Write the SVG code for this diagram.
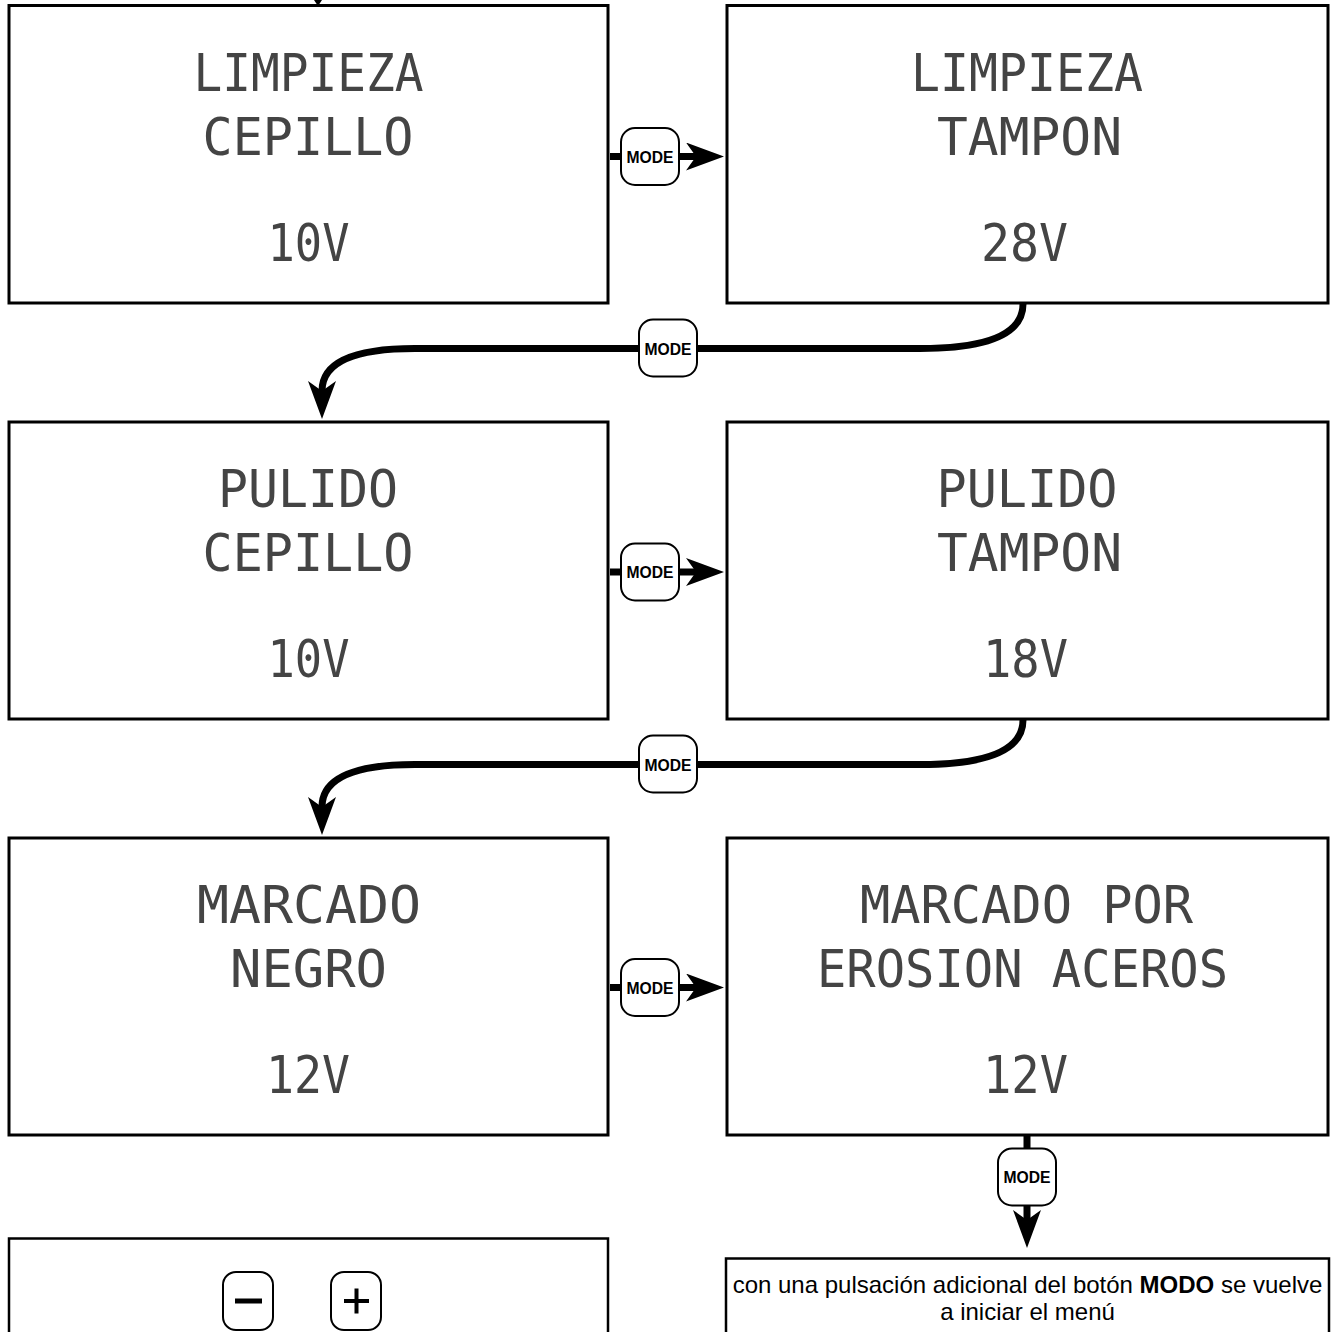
<svg xmlns="http://www.w3.org/2000/svg" width="1337" height="1332" viewBox="0 0 1337 1332">
<style>
.box{fill:#fff;stroke:#000;stroke-width:3}
.box2{fill:#fff;stroke:#000;stroke-width:2.5}
.lcd{font-family:"DejaVu Sans Mono","Liberation Mono",monospace;font-size:51px;fill:#444;text-anchor:middle}
.conn{fill:none;stroke:#000;stroke-width:7}
.btn{fill:#fff;stroke:#000;stroke-width:2}
.btxt{font-family:"Liberation Sans",Arial,sans-serif;font-size:17px;font-weight:bold;fill:#000;text-anchor:middle}
.note{font-family:"Liberation Sans",Arial,sans-serif;font-size:24px;fill:#000;text-anchor:middle}
</style>
<defs>
<marker id="ah" markerUnits="userSpaceOnUse" markerWidth="38" markerHeight="28" viewBox="0 0 38 28" refX="10" refY="14" orient="auto">
<path d="M0 0 L38 14 L0 28 L10 14 Z" fill="#000"/>
</marker>
</defs>
<rect width="1337" height="1332" fill="#fff"/>

<g id="connectors">
<polygon points="314,0 322,0 318,6" fill="#000"/>
<path class="conn" d="M610 156.5 L696 156.5" marker-end="url(#ah)"/>
<path class="conn" d="M1023 304 Q1023 348.5 920 348.5 L415 348.5 Q322 348.5 322 391" marker-end="url(#ah)"/>
<path class="conn" d="M610 572 L696 572" marker-end="url(#ah)"/>
<path class="conn" d="M1023 720 Q1023 764.5 920 764.5 L415 764.5 Q322 764.5 322 807" marker-end="url(#ah)"/>
<path class="conn" d="M610 987.5 L696 987.5" marker-end="url(#ah)"/>
<path class="conn" d="M1027 1136 L1027 1220" marker-end="url(#ah)"/>
</g>

<g id="node-limpieza-cepillo">
<rect class="box" x="9" y="5.5" width="599" height="297.5"/>
<text class="lcd" x="308.5" y="91" textLength="230" lengthAdjust="spacingAndGlyphs">LIMPIEZA</text>
<text class="lcd" x="308" y="155" textLength="211" lengthAdjust="spacingAndGlyphs">CEPILLO</text>
<text class="lcd" x="308.5" y="261" textLength="82" lengthAdjust="spacingAndGlyphs">10V</text>
</g>
<g id="node-limpieza-tampon">
<rect class="box" x="727" y="5.5" width="601" height="297.5"/>
<text class="lcd" x="1027" y="91" textLength="232" lengthAdjust="spacingAndGlyphs">LIMPIEZA</text>
<text class="lcd" x="1029.5" y="155" textLength="185" lengthAdjust="spacingAndGlyphs">TAMPON</text>
<text class="lcd" x="1024.5" y="261" textLength="87" lengthAdjust="spacingAndGlyphs">28V</text>
</g>
<g id="node-pulido-cepillo">
<rect class="box" x="9" y="422" width="599" height="297"/>
<text class="lcd" x="308" y="507" textLength="180" lengthAdjust="spacingAndGlyphs">PULIDO</text>
<text class="lcd" x="308" y="571" textLength="211" lengthAdjust="spacingAndGlyphs">CEPILLO</text>
<text class="lcd" x="308.5" y="677" textLength="82" lengthAdjust="spacingAndGlyphs">10V</text>
</g>
<g id="node-pulido-tampon">
<rect class="box" x="727" y="422" width="601" height="297"/>
<text class="lcd" x="1027" y="507" textLength="181" lengthAdjust="spacingAndGlyphs">PULIDO</text>
<text class="lcd" x="1029.5" y="571" textLength="185" lengthAdjust="spacingAndGlyphs">TAMPON</text>
<text class="lcd" x="1025.5" y="677" textLength="85" lengthAdjust="spacingAndGlyphs">18V</text>
</g>
<g id="node-marcado-negro">
<rect class="box" x="9" y="838" width="599" height="297"/>
<text class="lcd" x="309" y="923" textLength="224" lengthAdjust="spacingAndGlyphs">MARCADO</text>
<text class="lcd" x="308.5" y="987" textLength="157" lengthAdjust="spacingAndGlyphs">NEGRO</text>
<text class="lcd" x="308" y="1093" textLength="84" lengthAdjust="spacingAndGlyphs">12V</text>
</g>
<g id="node-marcado-erosion">
<rect class="box" x="727" y="838" width="601" height="297"/>
<text class="lcd" x="1026.5" y="923" textLength="333" lengthAdjust="spacingAndGlyphs">MARCADO POR</text>
<text class="lcd" x="1022.5" y="987" textLength="411" lengthAdjust="spacingAndGlyphs">EROSION ACEROS</text>
<text class="lcd" x="1025.5" y="1093" textLength="85" lengthAdjust="spacingAndGlyphs">12V</text>
</g>

<g id="btn-mode-1"><rect class="btn" x="621" y="128" width="58" height="57" rx="14"/><text class="btxt" x="650" y="162.5" textLength="47" lengthAdjust="spacingAndGlyphs">MODE</text></g>
<g id="btn-mode-2"><rect class="btn" x="639" y="319.5" width="58" height="57" rx="14"/><text class="btxt" x="668" y="354.5" textLength="47" lengthAdjust="spacingAndGlyphs">MODE</text></g>
<g id="btn-mode-3"><rect class="btn" x="621" y="543.5" width="58" height="57" rx="14"/><text class="btxt" x="650" y="578" textLength="47" lengthAdjust="spacingAndGlyphs">MODE</text></g>
<g id="btn-mode-4"><rect class="btn" x="639" y="735.5" width="58" height="57" rx="14"/><text class="btxt" x="668" y="770.5" textLength="47" lengthAdjust="spacingAndGlyphs">MODE</text></g>
<g id="btn-mode-5"><rect class="btn" x="621" y="959" width="58" height="57" rx="14"/><text class="btxt" x="650" y="993.5" textLength="47" lengthAdjust="spacingAndGlyphs">MODE</text></g>
<g id="btn-mode-6"><rect class="btn" x="998" y="1148.5" width="58" height="57" rx="14"/><text class="btxt" x="1027" y="1183" textLength="47" lengthAdjust="spacingAndGlyphs">MODE</text></g>

<g id="node-adjust">
<rect class="box2" x="9" y="1238.5" width="599" height="120"/>
<rect class="btn" x="223" y="1272" width="50" height="58" rx="13"/>
<rect x="235" y="1298.5" width="27" height="5" fill="#000"/>
<rect class="btn" x="331" y="1272" width="50" height="58" rx="13"/>
<rect x="344" y="1299" width="25" height="4" fill="#000"/>
<rect x="354.5" y="1288.5" width="4" height="25" fill="#000"/>
</g>

<g id="node-note">
<rect class="box2" x="726" y="1258.5" width="603" height="100"/>
<text class="note" x="1027.5" y="1293">con una pulsación adicional del botón <tspan font-weight="bold">MODO</tspan> se vuelve</text>
<text class="note" x="1027.5" y="1320">a iniciar el menú</text>
</g>
</svg>
